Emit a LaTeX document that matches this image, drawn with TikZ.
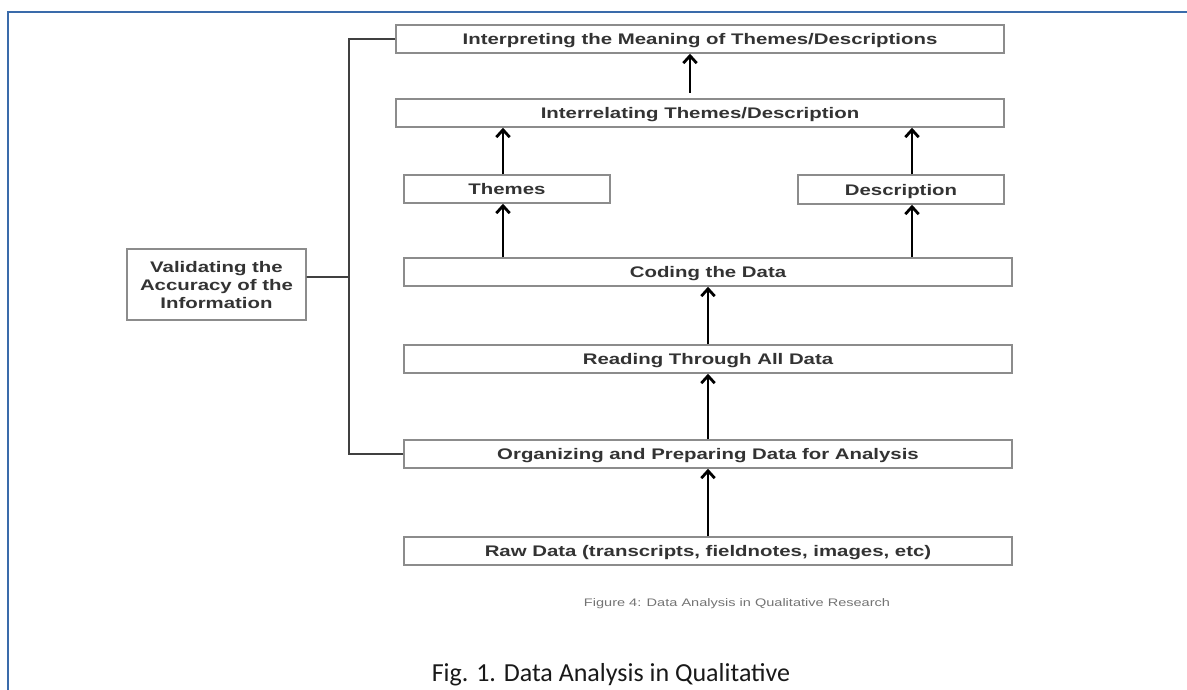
\documentclass[tikz,border=0pt]{standalone}
\usepackage{fontspec}
\setmainfont{Liberation Sans}
\newfontfamily\calib{Carlito}
\usetikzlibrary{arrows.meta,shadows}
\newlength\px \setlength\px{0.75pt}
\newcommand\bx[1]{\scalebox{1.33}[1]{#1}}
\definecolor{frameblue}{HTML}{3A6BAA}
\begin{document}
\begin{tikzpicture}[x=0.75pt,y=-0.75pt,
 stepbox/.style={draw=black!45, line width=1.1pt, fill=white, inner sep=0pt,
   text height=8.3pt, text depth=0pt,
   font=\fontsize{11.5}{13.5}\selectfont\bfseries, text=black!80,
   drop shadow={shadow xshift=0.8pt, shadow yshift=-0.8pt, fill=black!30, opacity=0.6}},
 arr/.style={-{Straight Barb[length=5.5pt,width=10pt,line width=2.1pt]}, line width=2.2pt, black},
 link/.style={line width=1.4pt, black!75}]
\useasboundingbox (0,0) rectangle (1187,689);
\draw[frameblue, line width=1.3pt] (8,12) rectangle (1200,700);

\node[stepbox, minimum width=608\px, minimum height=28\px] (interp) at (700,39) {\bx{Interpreting the Meaning of Themes/Descriptions}};
\node[stepbox, minimum width=608\px, minimum height=28\px] (interrel) at (700,113) {\bx{Interrelating Themes/Description}};
\node[stepbox, minimum width=206\px, minimum height=28\px] (themes) at (507,189) {\bx{Themes}};
\node[stepbox, minimum width=206\px, minimum height=29\px] (desc) at (901,189.5) {\bx{Description}};
\node[stepbox, minimum width=608\px, minimum height=28\px] (coding) at (708,272) {\bx{Coding the Data}};
\node[stepbox, minimum width=608\px, minimum height=28\px] (reading) at (708,359) {\bx{Reading Through All Data}};
\node[stepbox, minimum width=608\px, minimum height=28\px] (organ) at (708,454) {\bx{Organizing and Preparing Data for Analysis}};
\node[stepbox, minimum width=608\px, minimum height=28\px] (raw) at (708,551) {\bx{Raw Data (transcripts, fieldnotes, images, etc)}};
\node[stepbox, text height=, minimum width=179\px, minimum height=71\px, align=center] (valid) at (216.5,284.5) {\bx{Validating the}\\\bx{Accuracy of the}\\\bx{Information}};

\coordinate (c690) at (690,0);
\coordinate (c503) at (503,0);
\coordinate (c912) at (912,0);
\coordinate (c708) at (708,0);
\coordinate (sp) at (349,277);

\draw[arr, shorten <=4pt] (interrel.north -| c690) -- (interp.south -| c690);
\draw[arr] (themes.north -| c503) -- (interrel.south -| c503);
\draw[arr] (desc.north -| c912) -- (interrel.south -| c912);
\draw[arr] (coding.north -| c503) -- (themes.south -| c503);
\draw[arr] (coding.north -| c912) -- (desc.south -| c912);
\draw[arr] (reading.north -| c708) -- (coding.south -| c708);
\draw[arr] (organ.north -| c708) -- (reading.south -| c708);
\draw[arr] (raw.north -| c708) -- (organ.south -| c708);

\draw[link] (interp.west) -| (sp);
\draw[link] (organ.west) -| (sp);
\draw[link] ([yshift=5.6pt]valid.east) -- (sp);

\node[text=black!55, font=\fontsize{8.2}{10}\selectfont] (cap4) at (737,604) {\bx{Figure 4: Data Analysis in Qualitative Research}};
\node[anchor=base, text=black!90, font=\calib\fontsize{19.5}{22}\selectfont] (fig1) at (611,681) {Fig. 1. Data Analysis in Qualitative};
\end{tikzpicture}
\end{document}
